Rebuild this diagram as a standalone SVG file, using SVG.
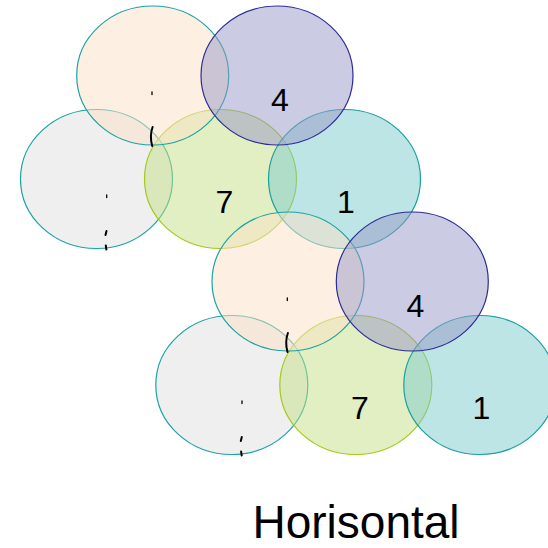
<svg xmlns="http://www.w3.org/2000/svg" width="548" height="548" viewBox="0 0 548 548">
  <style>
    .c { stroke-width: 1.2; fill-opacity: 0.5; }
    .peach { fill: #fbe1c7; stroke: #1aa3a3; }
    .purple { fill: #9797c7; stroke: #2b2b96; }
    .gray { fill: #dfdfdf; stroke: #1aa3a3; }
    .green { fill: #c5df85; stroke: #a3c91a; }
    .teal { fill: #7bcbcb; stroke: #1a9f9f; }
    .num { font-family: "Liberation Sans", Arial, sans-serif; font-size: 32px; fill: #000; text-anchor: middle; }
    .title { font-family: "Liberation Sans", Arial, sans-serif; font-size: 46px; fill: #000; text-anchor: middle; }
    .mark { fill: none; stroke: #000; stroke-linecap: round; }
  </style>

  <!-- upper cluster -->
  <g id="cluster-1">
    <g id="c1-gray"><ellipse class="c gray" cx="96.5" cy="179" rx="76" ry="69.5"/></g>
    <g id="c1-green"><ellipse class="c green" cx="220.5" cy="179" rx="76" ry="69.5"/><text class="num" x="224.5" y="213">7</text></g>
    <g id="c1-teal"><ellipse class="c teal" cx="344.5" cy="179" rx="76" ry="69.5"/><text class="num" x="346" y="213">1</text></g>
    <g id="c1-peach"><ellipse class="c peach" cx="152.7" cy="75.5" rx="76" ry="69.5"/></g>
    <g id="c1-purple"><ellipse class="c purple" cx="277" cy="75.5" rx="76" ry="69.5"/><text class="num" x="280" y="111">4</text></g>
    <g id="c1-marks">
      <path class="mark" stroke-width="1.3" d="M152,92 L152,94.5"/>
      <path class="mark" stroke-width="2" d="M152.6,127 Q149.4,136 152.2,146"/>
      <path class="mark" stroke-width="1.3" d="M106.7,195 L106.7,197.5"/>
      <path class="mark" stroke-width="2" d="M106.5,231 L105.5,235"/>
      <path class="mark" stroke-width="2" d="M105.8,245.5 L106.4,249.5"/>
    </g>
  </g>

  <!-- lower cluster -->
  <g id="cluster-2" transform="translate(135.3,206)">
    <g id="c2-gray"><ellipse class="c gray" cx="96.5" cy="179" rx="76" ry="69.5"/></g>
    <g id="c2-green"><ellipse class="c green" cx="220.5" cy="179" rx="76" ry="69.5"/><text class="num" x="224.5" y="213">7</text></g>
    <g id="c2-teal"><ellipse class="c teal" cx="344.5" cy="179" rx="76" ry="69.5"/><text class="num" x="346" y="213">1</text></g>
    <g id="c2-peach"><ellipse class="c peach" cx="152.7" cy="75.5" rx="76" ry="69.5"/></g>
    <g id="c2-purple"><ellipse class="c purple" cx="277" cy="75.5" rx="76" ry="69.5"/><text class="num" x="280" y="111">4</text></g>
    <g id="c2-marks">
      <path class="mark" stroke-width="1.3" d="M152,92 L152,94.5"/>
      <path class="mark" stroke-width="2" d="M152.6,127 Q149.4,136 152.2,146"/>
      <path class="mark" stroke-width="1.3" d="M106.7,195 L106.7,197.5"/>
      <path class="mark" stroke-width="2" d="M106.5,231 L105.5,235"/>
      <path class="mark" stroke-width="2" d="M105.8,245.5 L106.4,249.5"/>
    </g>
  </g>

  <!-- connectors (none drawn) -->
  <g id="connectors"/>

  <text id="caption" class="title" x="356" y="538">Horisontal</text>
</svg>
